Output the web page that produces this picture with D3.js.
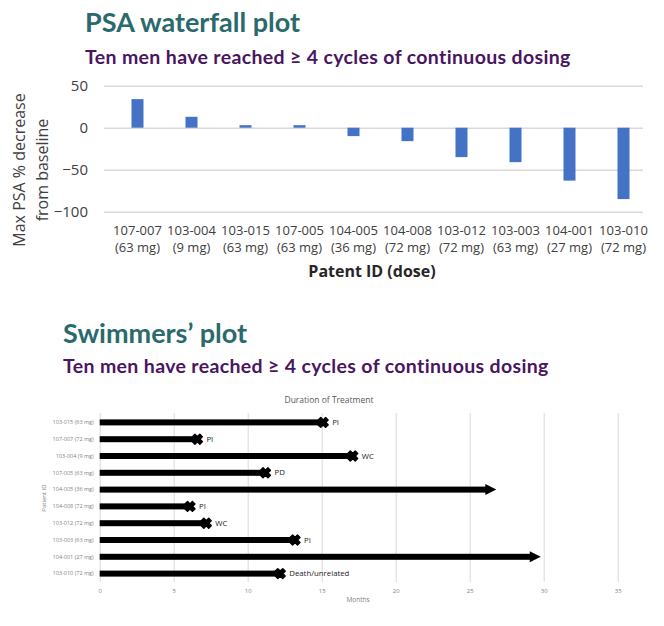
<!DOCTYPE html>
<html>
<head>
<meta charset="utf-8">
<script src="https://cdn.jsdelivr.net/npm/d3@7"></script>
<style>
  body { margin: 0; background: #fff; }
  svg { display: block; }
</style>
</head>
<body>
<svg id="chart"></svg>
<script>
const width = 664;
const height = 626;

// waterfall data
const patientIds = ['107-007', '103-004', '103-015', '107-005', '104-005', '104-008', '103-012', '103-003', '104-001', '103-010'];
const patientDoses = ['(63 mg)', '(9 mg)', '(63 mg)', '(63 mg)', '(36 mg)', '(72 mg)', '(72 mg)', '(63 mg)', '(27 mg)', '(72 mg)'];
const psaChange = [34, 13, 3, 3, -10, -16, -35, -41, -63, -85];
const psaTicks = [50, 0, -50, -100];

// swimmers data
const swimLabels = ['103-015 (63 mg)', '107-007 (72 mg)', '103-004 (9 mg)', '107-005 (63 mg)', '104-005 (36 mg)',
                    '104-008 (72 mg)', '103-012 (72 mg)', '103-003 (63 mg)', '104-001 (27 mg)', '103-010 (72 mg)'];
const swimMonths = [15.1, 6.6, 17.1, 11.2, 26.8, 6.1, 7.2, 13.2, 29.8, 12.2];
const swimStatus = ['PI', 'PI', 'WC', 'PD', '', 'PI', 'WC', 'PI', '', 'Death/unrelated'];
const swimOngoing = [false, false, false, false, true, false, false, false, true, false];
const monthTicks = [0, 5, 10, 15, 20, 25, 30, 35];

const teal = '#2b6a6c';
const purple = '#4a1560';
const titleFont = 'Lato, "Open Sans", sans-serif';
const bodyFont = '"Open Sans", "Noto Sans", sans-serif';

const svg = d3.select('#chart')
    .attr('width', width)
    .attr('height', height);

// ---------- waterfall ----------
svg.append('text')
    .attr('x', 85).attr('y', 32)
    .attr('font-family', titleFont).attr('font-weight', 700)
    .attr('font-size', 27).attr('fill', teal)
    .text('PSA waterfall plot');

svg.append('text')
    .attr('x', 85).attr('y', 64)
    .attr('font-family', titleFont).attr('font-weight', 700)
    .attr('font-size', 19.5).attr('letter-spacing', 0.35).attr('fill', purple)
    .text('Ten men have reached \u2265 4 cycles of continuous dosing');

const x = d3.scalePoint().domain(patientIds).range([110.5, 650.5]).padding(0.5);
const y = d3.scaleLinear().domain([-100, 50]).range([211.7, 85.7]);

const gridLeft = 104, gridRight = 643;

const yAxis = svg.append('g')
    .attr('transform', `translate(${gridLeft}, 0)`)
    .call(d3.axisLeft(y).tickValues(psaTicks).tickSize(-(gridRight - gridLeft)).tickPadding(16));
yAxis.select('.domain').remove();
yAxis.selectAll('.tick line').attr('stroke', '#d9d9d9').attr('stroke-width', 1.5);
yAxis.selectAll('.tick text')
    .attr('font-family', bodyFont).attr('font-size', 15).attr('fill', '#404040');

svg.selectAll('.psa-bar').data(psaChange)
    .enter().append('rect')
    .attr('class', 'psa-bar')
    .attr('x', (d, i) => x(patientIds[i]) - 6)
    .attr('y', d => y(Math.max(d, 0)))
    .attr('width', 12)
    .attr('height', d => Math.abs(y(d) - y(0)))
    .attr('fill', '#4472c4');

const xLabels = svg.selectAll('.x-label').data(patientIds)
    .enter().append('text')
    .attr('class', 'x-label')
    .attr('text-anchor', 'middle')
    .attr('font-family', bodyFont).attr('font-size', 13).attr('fill', '#404040');
xLabels.append('tspan')
    .attr('x', d => x(d)).attr('y', 235)
    .text(d => d);
xLabels.append('tspan')
    .attr('x', d => x(d)).attr('y', 252)
    .text((d, i) => patientDoses[i]);

svg.append('text')
    .attr('x', 372).attr('y', 277)
    .attr('text-anchor', 'middle')
    .attr('font-family', bodyFont).attr('font-weight', 700)
    .attr('font-size', 16).attr('fill', '#262626')
    .text('Patent ID (dose)');

const yTitle = svg.append('text')
    .attr('transform', 'translate(25, 170) rotate(-90)')
    .attr('text-anchor', 'middle')
    .attr('font-family', bodyFont).attr('font-size', 16).attr('fill', '#404040');
yTitle.append('tspan').attr('x', 0).attr('y', 0).text('Max PSA % decrease');
yTitle.append('tspan').attr('x', 0).attr('y', 23).text('from baseline');

// ---------- swimmers ----------
svg.append('text')
    .attr('x', 63).attr('y', 343)
    .attr('font-family', titleFont).attr('font-weight', 700)
    .attr('font-size', 27).attr('fill', teal)
    .text('Swimmers\u2019 plot');

svg.append('text')
    .attr('x', 63).attr('y', 373)
    .attr('font-family', titleFont).attr('font-weight', 700)
    .attr('font-size', 19.5).attr('letter-spacing', 0.35).attr('fill', purple)
    .text('Ten men have reached \u2265 4 cycles of continuous dosing');

svg.append('text')
    .attr('x', 329).attr('y', 403)
    .attr('text-anchor', 'middle')
    .attr('font-family', bodyFont).attr('font-size', 8.5).attr('fill', '#595959')
    .text('Duration of Treatment');

const xs = d3.scaleLinear().domain([0, 35]).range([99.7, 617.7]);
const ys = d3.scaleBand().domain(swimLabels).range([414, 582]);

const xsAxis = svg.append('g')
    .attr('transform', 'translate(0, 582)')
    .call(d3.axisBottom(xs).tickValues(monthTicks).tickSize(-169).tickPadding(7));
xsAxis.select('.domain').remove();
xsAxis.selectAll('.tick line').attr('stroke', '#d9d9d9').attr('stroke-width', 1);
xsAxis.selectAll('.tick text')
    .attr('font-family', bodyFont).attr('font-size', 6).attr('fill', '#7f7f7f');

svg.append('text')
    .attr('x', 358).attr('y', 602)
    .attr('text-anchor', 'middle')
    .attr('font-family', bodyFont).attr('font-size', 6.5).attr('fill', '#7f7f7f')
    .text('Months');

const ysAxis = svg.append('g')
    .attr('transform', `translate(${xs(0)}, 0)`)
    .call(d3.axisLeft(ys).tickSize(0).tickPadding(6));
ysAxis.select('.domain').remove();
ysAxis.selectAll('.tick text')
    .attr('font-family', bodyFont).attr('font-size', 5.5).attr('fill', '#7f7f7f');

svg.append('text')
    .attr('transform', `translate(46, ${(414 + 582) / 2}) rotate(-90)`)
    .attr('text-anchor', 'middle')
    .attr('font-family', bodyFont).attr('font-size', 6).attr('fill', '#7f7f7f')
    .text('Patient ID');

const headLen = 11;
const rows = svg.selectAll('.swim').data(swimLabels)
    .enter().append('g')
    .attr('class', 'swim')
    .attr('transform', d => `translate(0, ${ys(d) + ys.bandwidth() / 2})`);

rows.append('rect')
    .attr('x', xs(0))
    .attr('y', -3)
    .attr('height', 6)
    .attr('width', (d, i) => xs(swimMonths[i]) - xs(0) - (swimOngoing[i] ? headLen - 1 : 0))
    .attr('fill', '#000');

rows.filter((d, i) => swimOngoing[i])
    .append('path')
    .attr('d', d => {
        const tip = xs(swimMonths[swimLabels.indexOf(d)]);
        return `M${tip},0L${tip - headLen},-5.5L${tip - headLen},5.5Z`;
    })
    .attr('fill', '#000');

const cross = d3.symbol().type(d3.symbolCross).size(60);
rows.filter((d, i) => !swimOngoing[i])
    .append('path')
    .attr('d', cross)
    .attr('transform', d => `translate(${xs(swimMonths[swimLabels.indexOf(d)])}, 0) rotate(45)`)
    .attr('fill', '#000')
    .attr('stroke', '#000')
    .attr('stroke-width', 1.5)
    .attr('stroke-linejoin', 'round');

rows.filter((d, i) => !swimOngoing[i])
    .append('text')
    .attr('x', d => xs(swimMonths[swimLabels.indexOf(d)]) + 9)
    .attr('y', 2.5)
    .attr('font-family', bodyFont).attr('font-size', 7.8).attr('fill', '#222')
    .text(d => swimStatus[swimLabels.indexOf(d)]);
</script>
</body>
</html>
